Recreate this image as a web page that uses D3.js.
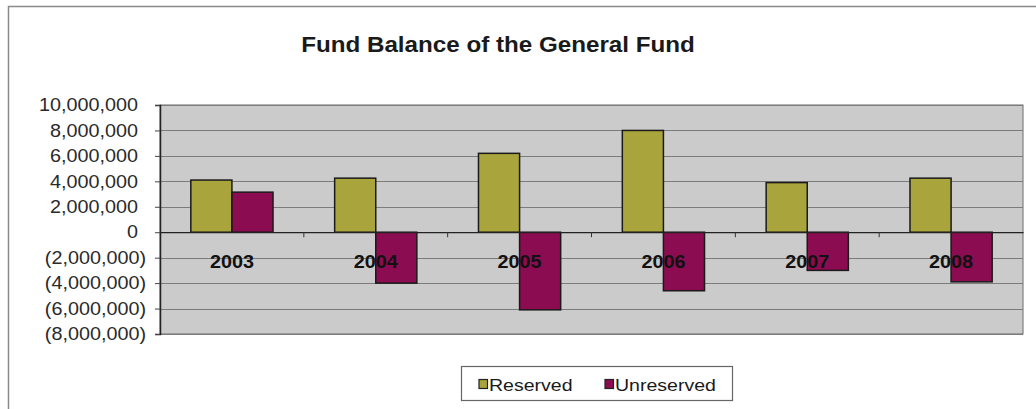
<!DOCTYPE html>
<html>
<head>
<meta charset="utf-8">
<script src="https://cdn.jsdelivr.net/npm/d3@7"></script>
<style>
  html, body { margin: 0; padding: 0; background: #fff; }
  svg { display: block; }
  text { font-family: "Liberation Sans", Arial, sans-serif; }
</style>
</head>
<body>
<svg id="chart" width="1036" height="409"></svg>
<script>
// Fund balance by fiscal year (dollars)
const years = ["2003", "2004", "2005", "2006", "2007", "2008"];
const reserved = [4100000, 4250000, 6200000, 8000000, 3900000, 4250000];
const unreserved = [3150000, -4000000, -6100000, -4600000, -3000000, -3900000];
const seriesNames = ["Reserved", "Unreserved"];
const seriesColors = ["#a9a53c", "#8c0c52"];
const yTicks = [-8000000, -6000000, -4000000, -2000000, 0, 2000000, 4000000, 6000000, 8000000, 10000000];

const svg = d3.select("#chart");
const plot = { left: 160, right: 1023, top: 105, bottom: 334 };
const stretch = 1.1; // horizontal text widening

// outer chart frame (top and left edges)
svg.append("path")
  .attr("d", "M8.5,409 L8.5,6.5 L1036,6.5")
  .attr("fill", "none").attr("stroke", "#8a8a8a").attr("stroke-width", 1.5);

// title
svg.append("text")
  .attr("transform", `translate(498,51.5) scale(${stretch},1)`)
  .attr("text-anchor", "middle")
  .attr("font-size", 22).attr("font-weight", "bold").attr("fill", "#1a1a1a")
  .text("Fund Balance of the General Fund");

const x = d3.scaleBand().domain(years).range([plot.left, plot.right]).padding(0);
const step = x.bandwidth();
const groupW = step * 2 / 3.5; // gap width 150% of one bar
const xs = d3.scaleBand().domain(seriesNames)
  .range([(step - groupW) / 2, (step + groupW) / 2]).padding(0);
const y = d3.scaleLinear().domain([-8000000, 10000000]).range([plot.bottom, plot.top]);

// plot background
svg.append("rect")
  .attr("x", plot.left).attr("y", plot.top)
  .attr("width", plot.right - plot.left).attr("height", plot.bottom - plot.top)
  .attr("fill", "#cbcbcb").attr("stroke", "#6a6a6a").attr("stroke-width", 1);

// horizontal gridlines
svg.append("g").selectAll("line")
  .data(yTicks.filter(d => d !== 0))
  .join("line")
  .attr("x1", plot.left).attr("x2", plot.right)
  .attr("y1", d => Math.round(y(d)) + 0.5).attr("y2", d => Math.round(y(d)) + 0.5)
  .attr("stroke", "#7c7c7c").attr("stroke-width", 1);

// y axis
const fmt = d3.format(",");
const yAxis = svg.append("g")
  .attr("transform", `translate(${plot.left},0)`)
  .call(d3.axisLeft(y).tickValues(yTicks).tickSize(5).tickPadding(0)
    .tickFormat(d => d < 0 ? "(" + fmt(-d) + ")" : fmt(d)));
yAxis.select(".domain").attr("stroke", "#222").attr("stroke-width", 1.5);
yAxis.selectAll(".tick line").attr("stroke", "#444");
yAxis.selectAll(".tick text")
  .attr("font-size", 18).attr("fill", "#2a2a2a")
  .attr("font-family", "Liberation Sans, Arial, sans-serif")
  .attr("x", d => (d < 0 ? -14 : -22) / stretch)
  .attr("transform", `scale(${stretch},1)`);

// bars
const rows = years.map((yr, i) => ({ year: yr, values: [reserved[i], unreserved[i]] }));
svg.append("g").selectAll("g")
  .data(rows)
  .join("g")
  .attr("transform", d => `translate(${x(d.year)},0)`)
  .selectAll("rect")
  .data(d => d.values.map((v, j) => ({ name: seriesNames[j], value: v, color: seriesColors[j] })))
  .join("rect")
  .attr("x", d => xs(d.name))
  .attr("width", xs.bandwidth())
  .attr("y", d => y(Math.max(0, d.value)))
  .attr("height", d => Math.abs(y(d.value) - y(0)))
  .attr("fill", d => d.color)
  .attr("stroke", "#1a1a1a").attr("stroke-width", 1.5);

// category axis along zero, ticks between years
const xAxis = svg.append("g")
  .attr("transform", `translate(0,${y(0)})`)
  .call(d3.axisBottom(x).tickSize(0).tickFormat(""));
xAxis.select(".domain").attr("stroke", "#222").attr("stroke-width", 1.2);
svg.append("g").selectAll("line")
  .data(years.slice(1))
  .join("line")
  .attr("x1", d => x(d)).attr("x2", d => x(d))
  .attr("y1", y(0)).attr("y2", y(0) + 5)
  .attr("stroke", "#333").attr("stroke-width", 1);

// category labels, drawn over the bars
svg.append("g").selectAll("text")
  .data(years)
  .join("text")
  .attr("transform", d => `translate(${x(d) + step / 2},268) scale(${stretch},1)`)
  .attr("text-anchor", "middle")
  .attr("font-size", 18).attr("font-weight", "bold").attr("fill", "#111")
  .text(d => d);

// legend
const legend = svg.append("g");
legend.append("rect")
  .attr("x", 461.5).attr("y", 366.5).attr("width", 271).attr("height", 34)
  .attr("fill", "#fff").attr("stroke", "#666").attr("stroke-width", 1.2);
const legendPos = [479, 605];
seriesNames.forEach((name, i) => {
  legend.append("rect")
    .attr("x", legendPos[i]).attr("y", 379.5).attr("width", 8.5).attr("height", 9)
    .attr("fill", seriesColors[i]).attr("stroke", "#222").attr("stroke-width", 1.2);
  legend.append("text")
    .attr("transform", `translate(${legendPos[i] + 10},391) scale(1.15,1)`)
    .attr("font-size", 17).attr("fill", "#1a1a1a")
    .text(name);
});
</script>
</body>
</html>
